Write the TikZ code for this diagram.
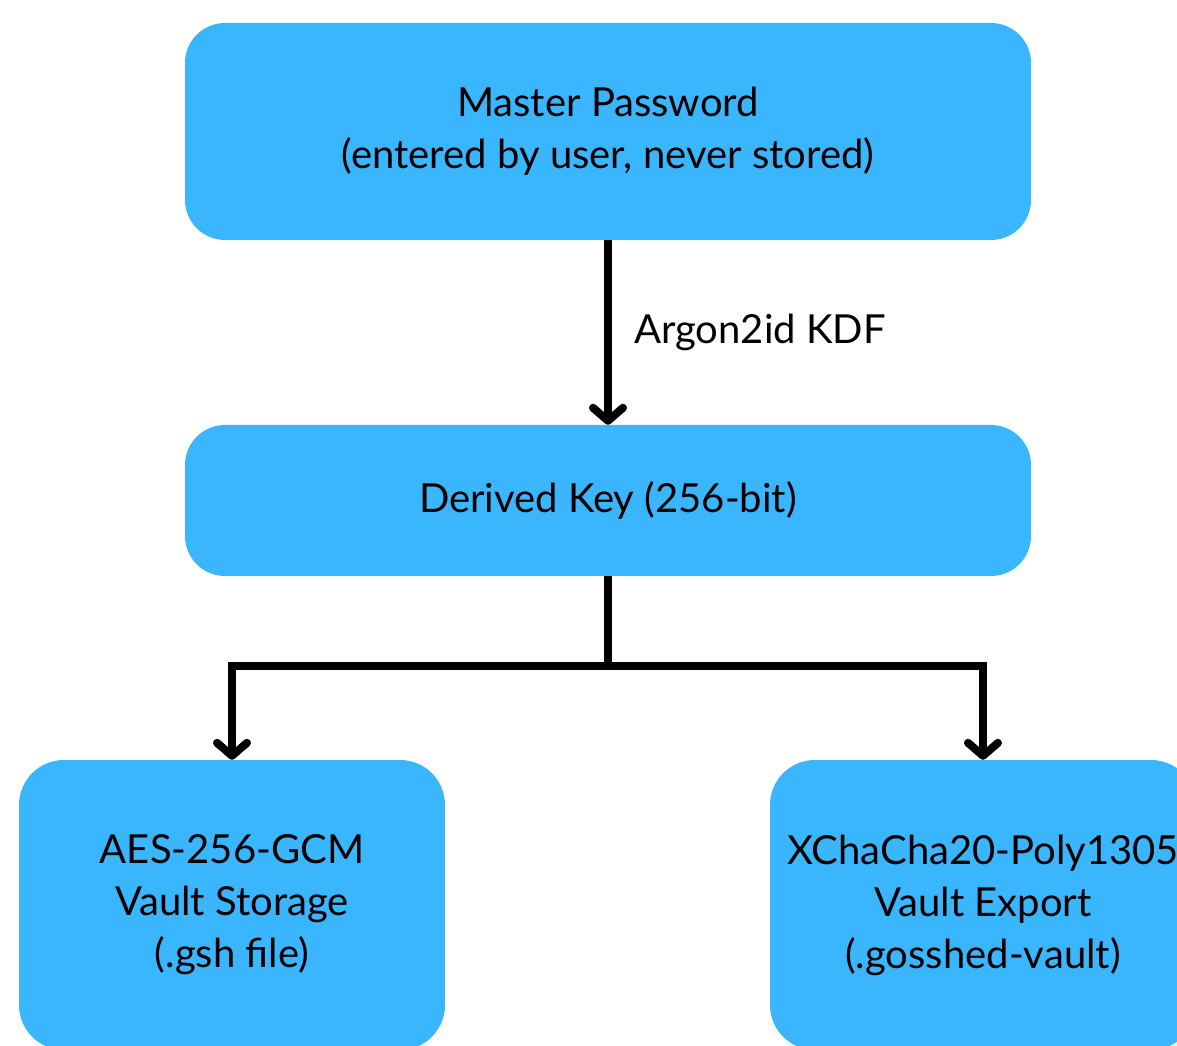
\documentclass[tikz,border=0pt]{standalone}
\usepackage{fontspec}
\setmainfont{Lato}
\usetikzlibrary{positioning,arrows.meta}
\definecolor{vaultblue}{RGB}{58,182,255}

\begin{document}
\begin{tikzpicture}[x=1pt,y=1pt,node distance=2cm,on grid,
    font=\fontsize{40}{52}\selectfont,
    block/.style={fill=vaultblue,rounded corners=40pt,align=center,
      minimum width=846pt,inner sep=0pt},
    leaf/.style={block,minimum width=426pt,minimum height=290pt,rounded corners=45pt},
    link/.style={line width=8pt,-{Straight Barb[length=13pt,width=30pt,round]}}]
   \useasboundingbox (0,0) rectangle (1177,1045);
   \clip (0,0) rectangle (1177,1045);
   \node[block,minimum height=217pt] (master) at (608,913.5)
      {Master Password\\(entered by user, never stored)};
   \node[block,minimum height=151pt] (derived) [below=369pt of master] {Derived Key (256-bit)};
   \node[leaf] (aes) [below left=404.5pt and 376pt of derived]
      {AES-256-GCM\\Vault Storage\\(.gsh file)};
   \node[leaf] (xcha) [below right=404.5pt and 375pt of derived]
      {XChaCha20-Poly1305\\Vault Export\\(.gosshed-vault)};
   \coordinate[below=90pt of derived.south] (fork);
   \path[link]
    (master) edge node [right=19pt] {Argon2id KDF} (derived);
   \draw[line width=8pt] (derived) -- (fork);
   \draw[link] (fork) -| (aes);
   \draw[link] (fork) -| (xcha);
\end{tikzpicture}
\end{document}
